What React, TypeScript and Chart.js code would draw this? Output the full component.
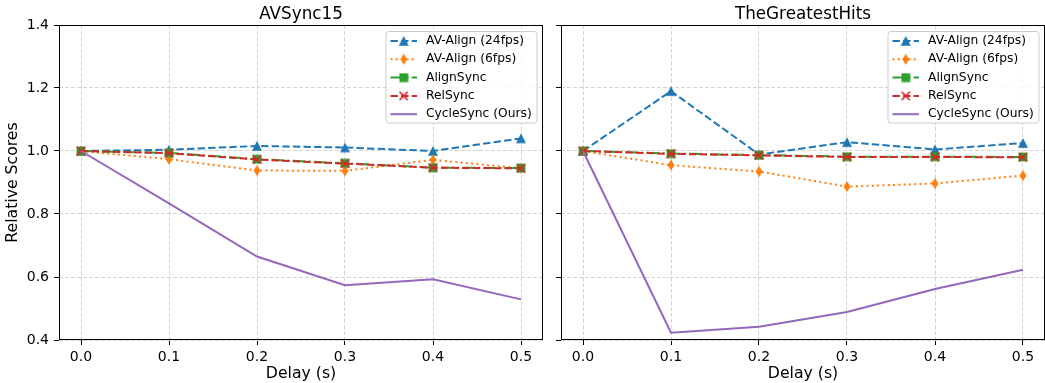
import React, { useEffect, useRef } from 'react';
import { Chart, registerables } from 'chart.js';

Chart.register(...registerables);

// ---------- data ----------
const delays = [0.0, 0.1, 0.2, 0.3, 0.4, 0.5];
const xTickValues = [0.0, 0.1, 0.2, 0.3, 0.4, 0.5];
const yTickValues = [0.4, 0.6, 0.8, 1.0, 1.2, 1.4];
const seriesNames = ['AV-Align (24fps)', 'AV-Align (6fps)', 'AlignSync', 'RelSync', 'CycleSync (Ours)'];
const panelTitles = ['AVSync15', 'TheGreatestHits'];
const xAxisTitle = 'Delay (s)';
const yAxisTitle = 'Relative Scores';

// AVSync15
const avsAvAlign24 = [1.0, 1.004, 1.016, 1.011, 1.0, 1.040];
const avsAvAlign6 = [1.0, 0.974, 0.938, 0.937, 0.972, 0.945];
const avsAlignSync = [1.0, 0.994, 0.974, 0.961, 0.947, 0.946];
const avsRelSync = [1.0, 0.993, 0.973, 0.960, 0.947, 0.945];
const avsCycleSync = [1.0, 0.834, 0.665, 0.574, 0.593, 0.529];

// TheGreatestHits
const tghAvAlign24 = [1.0, 1.190, 0.989, 1.028, 1.005, 1.025];
const tghAvAlign6 = [1.0, 0.955, 0.935, 0.887, 0.897, 0.922];
const tghAlignSync = [1.0, 0.992, 0.987, 0.982, 0.982, 0.981];
const tghRelSync = [1.0, 0.991, 0.986, 0.981, 0.981, 0.980];
const tghCycleSync = [1.0, 0.423, 0.442, 0.489, 0.562, 0.623];

const panelSeries = [
  [avsAvAlign24, avsAvAlign6, avsAlignSync, avsRelSync, avsCycleSync],
  [tghAvAlign24, tghAvAlign6, tghAlignSync, tghRelSync, tghCycleSync],
];

// ---------- styles ----------
const FONT = '"DejaVu Sans", "Liberation Sans", sans-serif';
const C_BLUE = '#1f77b4';
const C_ORANGE = '#ff7f0e';
const C_GREEN = '#2ca02c';
const C_RED = '#d62728';
const C_PURPLE = '#9467bd';
const GRID = '#d4d4d4';
const LW = 2;

type Markers = { tri: HTMLCanvasElement; dia: HTMLCanvasElement; sq: HTMLCanvasElement; x: HTMLCanvasElement };

function makeMarkers(): Markers {
  const mk = (w: number, h: number, draw: (c: CanvasRenderingContext2D) => void) => {
    const cv = document.createElement('canvas');
    cv.width = w;
    cv.height = h;
    const c = cv.getContext('2d') as CanvasRenderingContext2D;
    draw(c);
    return cv;
  };
  const tri = mk(12, 12, (c) => {
    c.fillStyle = C_BLUE;
    c.beginPath();
    c.moveTo(6, 1.0);
    c.lineTo(11.0, 10.8);
    c.lineTo(1.0, 10.8);
    c.closePath();
    c.fill();
  });
  const dia = mk(10, 12, (c) => {
    c.fillStyle = C_ORANGE;
    c.beginPath();
    c.moveTo(5, 0.5);
    c.lineTo(8.5, 6);
    c.lineTo(5, 11.5);
    c.lineTo(1.5, 6);
    c.closePath();
    c.fill();
  });
  const sq = mk(10, 10, (c) => {
    c.fillStyle = C_GREEN;
    c.fillRect(0.6, 0.6, 8.8, 8.8);
  });
  const x = mk(11, 11, (c) => {
    c.strokeStyle = C_RED;
    c.lineWidth = 1.5;
    c.beginPath();
    c.moveTo(1.4, 1.4);
    c.lineTo(9.6, 9.6);
    c.moveTo(9.6, 1.4);
    c.lineTo(1.4, 9.6);
    c.stroke();
  });
  return { tri, dia, sq, x };
}

function buildDatasets(values: number[][], m: Markers) {
  const styles = [
    { color: C_BLUE, dash: [3.7 * LW, 1.6 * LW], marker: m.tri },
    { color: C_ORANGE, dash: [1.0 * LW, 1.65 * LW], marker: m.dia },
    { color: C_GREEN, dash: [6.4 * LW, 1.6 * LW, 1 * LW, 1.6 * LW], marker: m.sq },
    { color: C_RED, dash: [3.7 * LW, 1.6 * LW], marker: m.x },
    { color: C_PURPLE, dash: [] as number[], marker: null as HTMLCanvasElement | null },
  ];
  return values.map((vals, i) => ({
    label: seriesNames[i],
    data: delays.map((d, j) => ({ x: d, y: vals[j] })),
    borderColor: styles[i].color,
    backgroundColor: styles[i].color,
    borderWidth: LW,
    borderDash: styles[i].dash,
    pointStyle: styles[i].marker ? styles[i].marker : 'circle',
    pointRadius: styles[i].marker ? 4 : 0,
    pointHoverRadius: styles[i].marker ? 4 : 0,
    tension: 0,
    fill: false,
    order: 4 - i,
    _marker: styles[i].marker,
  }));
}

function makeDecorPlugin(title: string) {
  return {
    id: 'decor',
    afterDraw(chart: any) {
      const ctx: CanvasRenderingContext2D = chart.ctx;
      const a = chart.chartArea;
      ctx.save();
      // spines
      ctx.setLineDash([]);
      ctx.strokeStyle = '#000';
      ctx.lineWidth = 1;
      ctx.strokeRect(a.left + 0.5, a.top + 0.5, a.right - a.left - 1, a.bottom - a.top - 1);

      // title
      ctx.fillStyle = '#000';
      ctx.font = `16.8px ${FONT}`;
      ctx.textAlign = 'center';
      ctx.textBaseline = 'alphabetic';
      ctx.fillText(title, (a.left + a.right) / 2, 18.5);

      // legend
      const bw = 151;
      const bh = 91.5;
      const bx = a.right - 157;
      const by = a.top + 6.5;
      const r = 3;
      ctx.beginPath();
      ctx.moveTo(bx + r, by);
      ctx.lineTo(bx + bw - r, by);
      ctx.quadraticCurveTo(bx + bw, by, bx + bw, by + r);
      ctx.lineTo(bx + bw, by + bh - r);
      ctx.quadraticCurveTo(bx + bw, by + bh, bx + bw - r, by + bh);
      ctx.lineTo(bx + r, by + bh);
      ctx.quadraticCurveTo(bx, by + bh, bx, by + bh - r);
      ctx.lineTo(bx, by + r);
      ctx.quadraticCurveTo(bx, by, bx + r, by);
      ctx.closePath();
      ctx.fillStyle = 'rgba(255,255,255,0.8)';
      ctx.fill();
      ctx.strokeStyle = '#cccccc';
      ctx.lineWidth = 1;
      ctx.stroke();

      chart.data.datasets.forEach((ds: any, i: number) => {
        const y = by + 9.5 + i * 18.3;
        ctx.setLineDash(ds.borderDash || []);
        ctx.strokeStyle = ds.borderColor;
        ctx.lineWidth = ds.borderWidth;
        ctx.beginPath();
        ctx.moveTo(bx + 4.5, y);
        ctx.lineTo(bx + 31, y);
        ctx.stroke();
        ctx.setLineDash([]);
        const mk = ds._marker as HTMLCanvasElement | null;
        if (mk) ctx.drawImage(mk, bx + 17.7 - mk.width / 2, y - mk.height / 2);
        ctx.fillStyle = '#000';
        ctx.font = `12.3px ${FONT}`;
        ctx.textAlign = 'left';
        ctx.textBaseline = 'middle';
        ctx.fillText(ds.label, bx + 40, y);
      });
      ctx.restore();
    },
  };
}

function zeroPad(s: any) {
  s.paddingLeft = 0;
  s.paddingRight = 0;
  s.paddingTop = 0;
  s.paddingBottom = 0;
}

function buildConfig(panel: number, m: Markers): any {
  const isLeft = panel === 0;
  return {
    type: 'line',
    data: { datasets: buildDatasets(panelSeries[panel], m) },
    plugins: [makeDecorPlugin(panelTitles[panel])],
    options: {
      animation: false,
      responsive: false,
      devicePixelRatio: 1,
      layout: { autoPadding: false, padding: { top: 25, right: isLeft ? 9 : 0, bottom: 0, left: 0 } },
      plugins: { legend: { display: false }, title: { display: false }, tooltip: { enabled: false } },
      events: [],
      scales: {
        x: {
          type: 'linear',
          min: -0.025,
          max: 0.525,
          afterBuildTicks: (s: any) => {
            s.ticks = xTickValues.map((v) => ({ value: v }));
          },
          afterFit: (s: any) => {
            s.height = 43;
            zeroPad(s);
          },
          ticks: {
            callback: (v: any) => Number(v).toFixed(1),
            font: { family: FONT, size: 14 },
            color: '#000',
            padding: 4,
            maxRotation: 0,
            autoSkip: false,
          },
          grid: { color: GRID, lineWidth: 1, drawTicks: true, tickLength: 5, tickColor: '#000', tickWidth: 1 },
          border: { display: false, dash: [4, 2] },
          title: {
            display: true,
            text: xAxisTitle,
            font: { family: FONT, size: 15.7 },
            color: '#000',
            padding: { top: 0, bottom: 0 },
          },
        },
        y: {
          type: 'linear',
          min: 0.4,
          max: 1.4,
          afterBuildTicks: (s: any) => {
            s.ticks = yTickValues.map((v) => ({ value: v }));
          },
          afterFit: (s: any) => {
            s.width = isLeft ? 59 : 10;
            zeroPad(s);
          },
          ticks: {
            display: isLeft,
            callback: (v: any) => Number(v).toFixed(1),
            font: { family: FONT, size: 14 },
            color: '#000',
            padding: 5,
            autoSkip: false,
          },
          grid: { color: GRID, lineWidth: 1, drawTicks: true, tickLength: 5, tickColor: '#000', tickWidth: 1 },
          border: { display: false, dash: [4, 2] },
          title: {
            display: isLeft,
            text: yAxisTitle,
            font: { family: FONT, size: 15.7 },
            color: '#000',
            padding: { top: 4, bottom: 0 },
          },
        },
      },
    },
  };
}

export default function App() {
  const leftRef = useRef<HTMLCanvasElement>(null);
  const rightRef = useRef<HTMLCanvasElement>(null);

  useEffect(() => {
    const m = makeMarkers();
    const c1 = new Chart(leftRef.current as HTMLCanvasElement, buildConfig(0, m));
    const c2 = new Chart(rightRef.current as HTMLCanvasElement, buildConfig(1, m));
    return () => {
      c1.destroy();
      c2.destroy();
    };
  }, []);

  return (
    <div style={{ position: 'absolute', left: 0, top: 0, width: 1045, height: 383, background: '#fff', overflow: 'hidden' }}>
      <canvas ref={leftRef} width={552} height={383} style={{ position: 'absolute', left: 0, top: 0 }} />
      <canvas ref={rightRef} width={494} height={383} style={{ position: 'absolute', left: 551, top: 0 }} />
    </div>
  );
}
